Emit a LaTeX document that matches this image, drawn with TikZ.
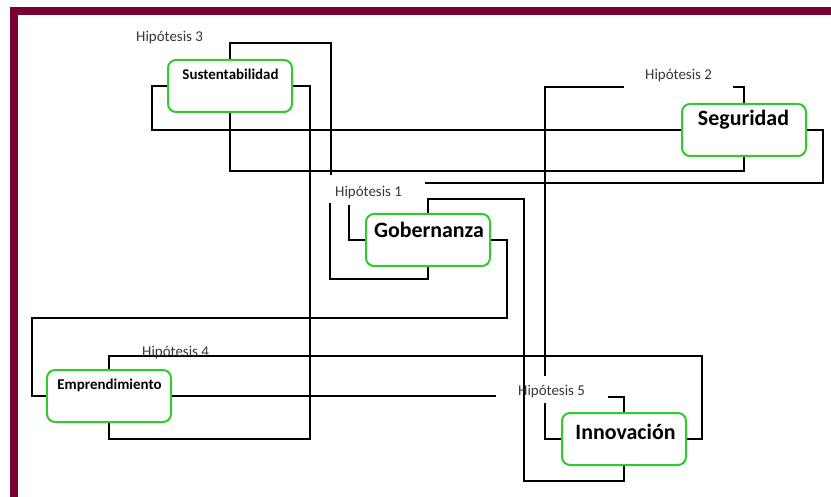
\documentclass[tikz,border=0pt]{standalone}
\usepackage{fontspec}
\setmainfont{Carlito}
\usetikzlibrary{calc}
\definecolor{maroon}{RGB}{122,0,50}
\definecolor{boxgreen}{RGB}{46,204,46}
\definecolor{labgray}{RGB}{55,55,55}
\tikzset{
  box/.style={draw=boxgreen, line width=2bp, rounded corners=8bp, minimum width=124bp, minimum height=52bp, inner sep=0pt, fill=white},
  bigtxt/.style={font=\fontsize{22}{24}\selectfont\bfseries, anchor=base, inner sep=0pt},
  smalltxt/.style={font=\fontsize{15}{17}\selectfont\bfseries, anchor=base, inner sep=0pt},
  hyp/.style={font=\fontsize{15}{17}\selectfont, text=labgray, anchor=base west, inner sep=0pt},
  conn/.style={draw=black, line width=2bp}
}
\begin{document}
\begin{tikzpicture}[x=1bp,y=-1bp]
\useasboundingbox (0,0) rectangle (831,497);
\fill[white] (0,0) rectangle (831,497);
% frame
\fill[maroon] (10,7.5) rectangle (831,15);
\fill[maroon] (10,7.5) rectangle (17.5,497);

% boxes
\node[box] (sus) at (230,86) {};
\node[box] (gob) at (428,240) {};
\node[box] (seg) at (744,130) {};
\node[box] (emp) at (109,396) {};
\node[box] (inn) at (624,439) {};

% free ends
\coordinate (h1top) at (331,175);
\coordinate (h1bot) at (330,203);
\coordinate (h1r) at (425,183);
\coordinate (h1l) at (349,205);
\coordinate (h2r) at (733,87);
\coordinate (h2l) at (624,87);
\coordinate (h5t) at (545,376);
\coordinate (h5b) at (545,403);
\coordinate (h5l) at (496,396);
\coordinate (h5r) at (608,397);

% connectors
\draw[conn] (sus.north) -- ++(0,-16) -| (h1top);
\draw[conn] (gob.south) -- ++(0,12) -| (h1bot);
\draw[conn] (sus.west) -- ++(-15,0) |- (seg.west);
\draw[conn] (sus.south) -- ++(0,58) -| (seg.south);
\draw[conn] (sus.east) -- ++(17,0) |- ($(emp.south)+(0,16)$) -- (emp.south);
\draw[conn] (seg.north) |- (h2r);
\draw[conn] (h2l) -| (h5t);
\draw[conn] (h5b) |- (inn.west);
\draw[conn] (seg.east) -- ++(16,0) |- (h1r);
\draw[conn] (gob.north) |- (524,199) |- ($(inn.south)+(0,15)$) -- (inn.south);
\draw[conn] (gob.east) -- ++(16,0) |- (32,318) |- (emp.west);
\draw[conn] (gob.west) -| (h1l);
\draw[conn] (emp.north) |- (702,356) |- (inn.east);
\draw[conn] (emp.east) -- (h5l);
\draw[conn] (inn.north) |- (h5r);

% box texts
\node[smalltxt] (sust) at (230.5,79.5) {Sustentabilidad};
\node[bigtxt] (gobt) at (429,237.7) {Gobernanza};
\node[bigtxt] (segt) at (743.5,126) {Seguridad};
\node[smalltxt] (empt) at (109.5,389) {Emprendimiento};
\node[bigtxt] (innt) at (625.5,439) {Innovación};

% hypothesis labels
\node[hyp] (hy3) at (136,41.7) {Hipótesis 3};
\node[hyp] (hy1) at (335,196.5) {Hipótesis 1};
\node[hyp] (hy2) at (645,80) {Hipótesis 2};
\node[hyp] (hy4) at (142,356) {Hipótesis 4};
\node[hyp] (hy5) at (518,395) {Hipótesis 5};
\end{tikzpicture}
\end{document}
